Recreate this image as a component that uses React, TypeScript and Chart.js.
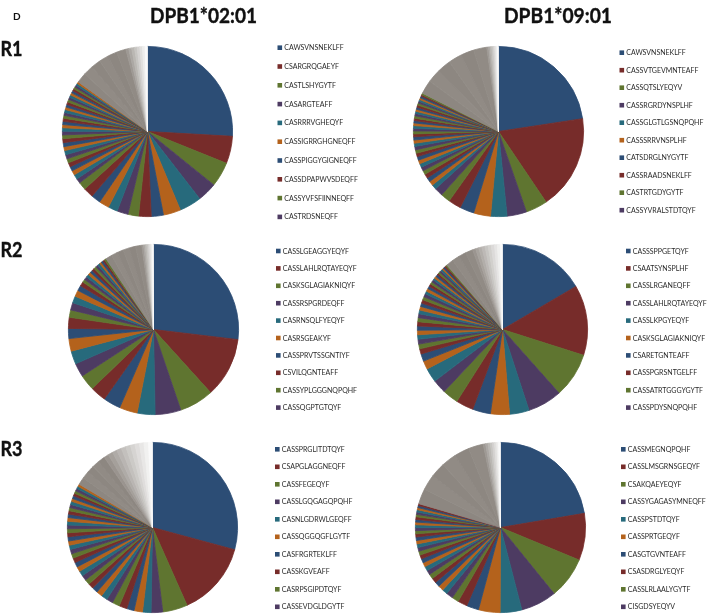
import React, { useEffect, useRef } from "react";
import { Chart, registerables } from "chart.js";

Chart.register(...registerables);

// ---------- text ----------
const panelLetter = "D";
const alleles = ["DPB1*02:01", "DPB1*09:01"];
const rowLabels = ["R1", "R2", "R3"];

// ---------- R1, DPB1*02:01 ----------
const r1aNames = ["CAWSVNSNEKLFF", "CSARGRQGAEYF", "CASTLSHYGYTF", "CASARGTEAFF", "CASRRRVGHEQYF", "CASSIGRRGHGNEQFF", "CASSPIGGYGIGNEQFF", "CASSDPAPWVSDEQFF", "CASSYVFSFIINNEQFF", "CASTRDSNEQFF"];
const r1aValues = [25.9, 5.2, 4.7, 3.7, 4.2, 3.3, 2.3, 2.4, 2.0, 2.1, 1.8, 1.9, 1.8, 1.9, 1.5, 0.9, 0.9, 0.85, 0.85, 0.8, 0.8, 0.8, 0.8, 0.75, 0.75, 0.75, 0.7, 0.7, 0.65, 0.6, 0.6, 0.6, 0.55, 0.55, 0.55, 0.5, 0.5, 0.5, 0.5, 0.45, 0.45, 0.45, 0.45, 0.4, 0.4, 0.4, 0.4, 0.35];
const r1aGrey = [1.9, 1.9, 1.8, 1.8, 1.8, 1.8];
const r1aFade = [0.55, 0.55, 0.55, 0.5, 0.5, 0.5, 0.5, 0.45];

// ---------- R1, DPB1*09:01 ----------
const r1bNames = ["CAWSVNSNEKLFF", "CASSVTGEVMNTEAFF", "CASSQTSLYEQYV", "CASSRGRDYNSPLHF", "CASSGLGTLGSNQPQHF", "CASSSRRVNSPLHF", "CATSDRGLNYGYTF", "CASSRAADSNEKLFF", "CASTRTGDYGYTF", "CASSYVRALSTDTQYF"];
const r1bValues = [22.5, 17.9, 4.1, 3.7, 3.1, 3.2, 2.7, 2.4, 1.8, 1.6, 0.9, 0.85, 0.8, 0.8, 0.75, 0.75, 0.7, 0.7, 0.7, 0.65, 0.65, 0.65, 0.6, 0.6, 0.6, 0.55, 0.55, 0.5, 0.5, 0.5, 0.45, 0.45, 0.45, 0.45, 0.4, 0.4, 0.4, 0.4, 0.4, 0.35, 0.35, 0.35, 0.35, 0.3, 0.3];
const r1bGrey = [2.6, 2.6, 2.55, 2.55, 2.5, 2.5];
const r1bFade = [0.35, 0.3, 0.3, 0.3, 0.25, 0.25, 0.25, 0.2];

// ---------- R2, DPB1*02:01 ----------
const r2aNames = ["CASSLGEAGGYEQYF", "CASSLAHLRQTAYEQYF", "CASKSGLAGIAKNIQYF", "CASSRSPGRDEQFF", "CASRNSQLFYEQYF", "CASRSGEAKYF", "CASSPRVTSSGNTIYF", "CSVILQGNTEAFF", "CASSYPLGGGNQPQHF", "CASSQGPTGTQYF"];
const r2aValues = [26.9, 11.4, 6.5, 4.9, 3.4, 3.4, 3.3, 3.0, 3.0, 2.6, 2.5, 2.4, 1.9, 2.1, 1.4, 1.4, 1.3, 1.2, 1.0, 0.8, 0.6, 0.6, 0.55, 0.55, 0.5, 0.5, 0.5, 0.45, 0.45, 0.4, 0.4, 0.35, 0.35];
const r2aGrey = [1.2, 1.2, 1.2, 1.2, 1.2, 1.2];
const r2aFade = [0.35, 0.3, 0.3, 0.3, 0.25, 0.25, 0.25, 0.2];

// ---------- R2, DPB1*09:01 ----------
const r2bNames = ["CASSSPPGETQYF", "CSAATSYNSPLHF", "CASSLRGANEQFF", "CASSLAHLRQTAYEQYF", "CASSLKPGYEQYF", "CASKSGLAGIAKNIQYF", "CSARETGNTEAFF", "CASSPGRSNTGELFF", "CASSATRTGGGYGYTF", "CASSPDYSNQPQHF"];
const r2bValues = [16.5, 13.3, 8.5, 6.5, 3.7, 3.6, 3.4, 3.3, 3.0, 2.6, 2.7, 1.6, 1.4, 1.0, 0.9, 0.9, 0.85, 0.85, 0.8, 0.8, 0.75, 0.75, 0.7, 0.7, 0.65, 0.65, 0.6, 0.6, 0.55, 0.55, 0.5, 0.5, 0.45, 0.45, 0.4, 0.4, 0.4, 0.35, 0.35, 0.35, 0.35, 0.3, 0.3, 0.3, 0.25];
const r2bGrey = [1.4, 1.4, 1.4, 1.4];
const r2bFade = [0.6, 0.6, 0.6, 0.6, 0.6, 0.6, 0.6, 0.55, 0.55, 0.4];

// ---------- R3, DPB1*02:01 ----------
const r3aNames = ["CASSPRGLITDTQYF", "CSAPGLAGGNEQFF", "CASSFEGEQYF", "CASSLGQGAGQPQHF", "CASNLGDRWLGEQFF", "CASSQGGQGFLGYTF", "CASFRGRTEKLFF", "CASSKGVEAFF", "CASRPSGIPDTQYF", "CASSEVDGLDGYTF"];
const r3aValues = [29.1, 14.1, 4.7, 2.2, 1.6, 1.6, 1.4, 1.5, 1.4, 1.2, 1.2, 1.1, 1.1, 1.0, 1.0, 1.0, 0.95, 0.95, 0.9, 0.9, 0.85, 0.85, 0.8, 0.8, 0.8, 0.75, 0.75, 0.7, 0.7, 0.7, 0.65, 0.65, 0.6, 0.6, 0.6, 0.55, 0.55, 0.5, 0.5, 0.5, 0.45, 0.45];
const r3aGrey = [1.4, 1.4, 1.4, 1.35, 1.35];
const r3aFade = [0.9, 0.9, 0.9, 0.9, 0.9, 0.9, 0.85, 0.85, 0.85, 0.85, 0.75];

// ---------- R3, DPB1*09:01 ----------
const r3bNames = ["CASSMEGNQPQHF", "CASSLMSGRNSGEQYF", "CSAKQAEYEQYF", "CASSYGAGASYMNEQFF", "CASSPSTDTQYF", "CASSPRTGEQYF", "CASGTGVNTEAFF", "CSASDRGLYEQYF", "CASSLRLAALYGYTF", "CISGDSYEQYV"];
const r3bValues = [22.3, 8.9, 7.9, 6.8, 4.1, 4.1, 2.3, 1.8, 1.3, 1.3, 1.0, 1.0, 0.95, 0.95, 0.9, 0.85, 0.85, 0.8, 0.8, 0.75, 0.75, 0.7, 0.7, 0.65, 0.65, 0.6, 0.6, 0.55, 0.55, 0.5, 0.5, 0.5, 0.45, 0.45, 0.45, 0.4, 0.4, 0.35];
const r3bGrey = [2.9, 2.9, 2.85, 2.85, 2.85, 2.85];
const r3bFade = [0.45, 0.45, 0.45, 0.4, 0.4, 0.4, 0.35, 0.35];

// ---------- styles ----------
const PALETTE = ["#2C4D75", "#772C2A", "#5F7530", "#4D3B62", "#276A7C", "#B4621C"];
const GREY = [141, 135, 129];
const WHITE = [250, 250, 250];
const FONT = "Lato, Carlito, 'Open Sans', sans-serif";

type Spec = {
  names: string[];
  values: number[];
  grey: number[];
  fade: number[];
  cx: number;
  cy: number;
  lx: number;
  ly: number;
  step: number;
};

const PIES: Spec[] = [
  { names: r1aNames, values: r1aValues, grey: r1aGrey, fade: r1aFade, cx: 147.7, cy: 131.3, lx: 277.5, ly: 47.7, step: 18.8 },
  { names: r1bNames, values: r1bValues, grey: r1bGrey, fade: r1bFade, cx: 498.7, cy: 131.3, lx: 619.5, ly: 52.7, step: 17.5 },
  { names: r2aNames, values: r2aValues, grey: r2aGrey, fade: r2aFade, cx: 153, cy: 329.3, lx: 276, ly: 251, step: 17.4 },
  { names: r2bNames, values: r2bValues, grey: r2bGrey, fade: r2bFade, cx: 502, cy: 329.3, lx: 626, ly: 251, step: 17.4 },
  { names: r3aNames, values: r3aValues, grey: r3aGrey, fade: r3aFade, cx: 152.3, cy: 527.3, lx: 275, ly: 449.3, step: 17.5 },
  { names: r3bNames, values: r3bValues, grey: r3bGrey, fade: r3bFade, cx: 500, cy: 527.3, lx: 621, ly: 449.3, step: 17.5 },
];

const ROW_BASELINES = [56, 257, 456];
const RADIUS = 85.5;
const PAD = 5;

function rgb(c: number[]) {
  return `rgb(${c.map((v) => Math.round(v)).join(",")})`;
}

function PieChart({ spec }: { spec: Spec }) {
  const ref = useRef<HTMLCanvasElement | null>(null);
  useEffect(() => {
    if (!ref.current) return;
    const data = [...spec.values, ...spec.grey, ...spec.fade];
    const colors: string[] = [];
    spec.values.forEach((_, i) => colors.push(PALETTE[i % PALETTE.length]));
    spec.grey.forEach((_, i) => colors.push(rgb(GREY.map((g) => g + (i % 2) * 4))));
    spec.fade.forEach((_, i) => {
      const t = Math.pow((i + 1) / spec.fade.length, 0.9);
      colors.push(rgb(GREY.map((g, k) => g + (WHITE[k] - g) * t)));
    });
    const labels = data.map((_, i) => spec.names[i] ?? "");
    const chart = new Chart(ref.current, {
      type: "pie",
      data: {
        labels,
        datasets: [
          {
            data,
            backgroundColor: colors,
            borderColor: colors,
            borderWidth: 0.8,
            hoverOffset: 0,
          },
        ],
      },
      options: {
        responsive: false,
        animation: false,
        events: [],
        layout: { padding: PAD },
        plugins: { legend: { display: false }, tooltip: { enabled: false } },
      },
    });
    return () => chart.destroy();
  }, [spec]);
  const size = Math.round(2 * (RADIUS + PAD));
  return (
    <canvas
      ref={ref}
      width={size}
      height={size}
      style={{ position: "absolute", left: spec.cx - size / 2, top: spec.cy - size / 2, width: size, height: size }}
    />
  );
}

export default function App() {
  return (
    <div style={{ position: "absolute", left: 0, top: 0, width: 708, height: 615, background: "#fff", overflow: "hidden" }}>
      {PIES.map((p, i) => (
        <PieChart key={i} spec={p} />
      ))}
      <svg width={708} height={615} style={{ position: "absolute", left: 0, top: 0 }}>
        <text x={13} y={20} fontFamily={FONT} fontWeight="bold" fontSize={10} fill="#111">
          {panelLetter}
        </text>
        <text x={150} y={23.3} textLength={107} lengthAdjust="spacingAndGlyphs" fontFamily={FONT} fontWeight="bold" fontSize={21} fill="#111" stroke="#111" strokeWidth={0.4}>
          {alleles[0]}
        </text>
        <text x={504} y={23.3} textLength={108} lengthAdjust="spacingAndGlyphs" fontFamily={FONT} fontWeight="bold" fontSize={21} fill="#111" stroke="#111" strokeWidth={0.4}>
          {alleles[1]}
        </text>
        {rowLabels.map((r, i) => (
          <text key={r} x={0.5} y={ROW_BASELINES[i]} textLength={22} lengthAdjust="spacingAndGlyphs" fontFamily={FONT} fontWeight="bold" fontSize={21} fill="#111" stroke="#111" strokeWidth={0.4}>
            {r}
          </text>
        ))}
        {PIES.map((p, pi) =>
          p.names.map((n, i) => {
            const y = p.ly + i * p.step;
            return (
              <g key={`${pi}-${i}`}>
                <rect x={p.lx} y={y - 2.3} width={4.6} height={4.6} fill={PALETTE[i % PALETTE.length]} />
                <text x={p.lx + 6.8} y={y + 2.5} fontFamily={FONT} fontSize={7} fill="#2a2a2a">
                  {n}
                </text>
              </g>
            );
          })
        )}
      </svg>
    </div>
  );
}
